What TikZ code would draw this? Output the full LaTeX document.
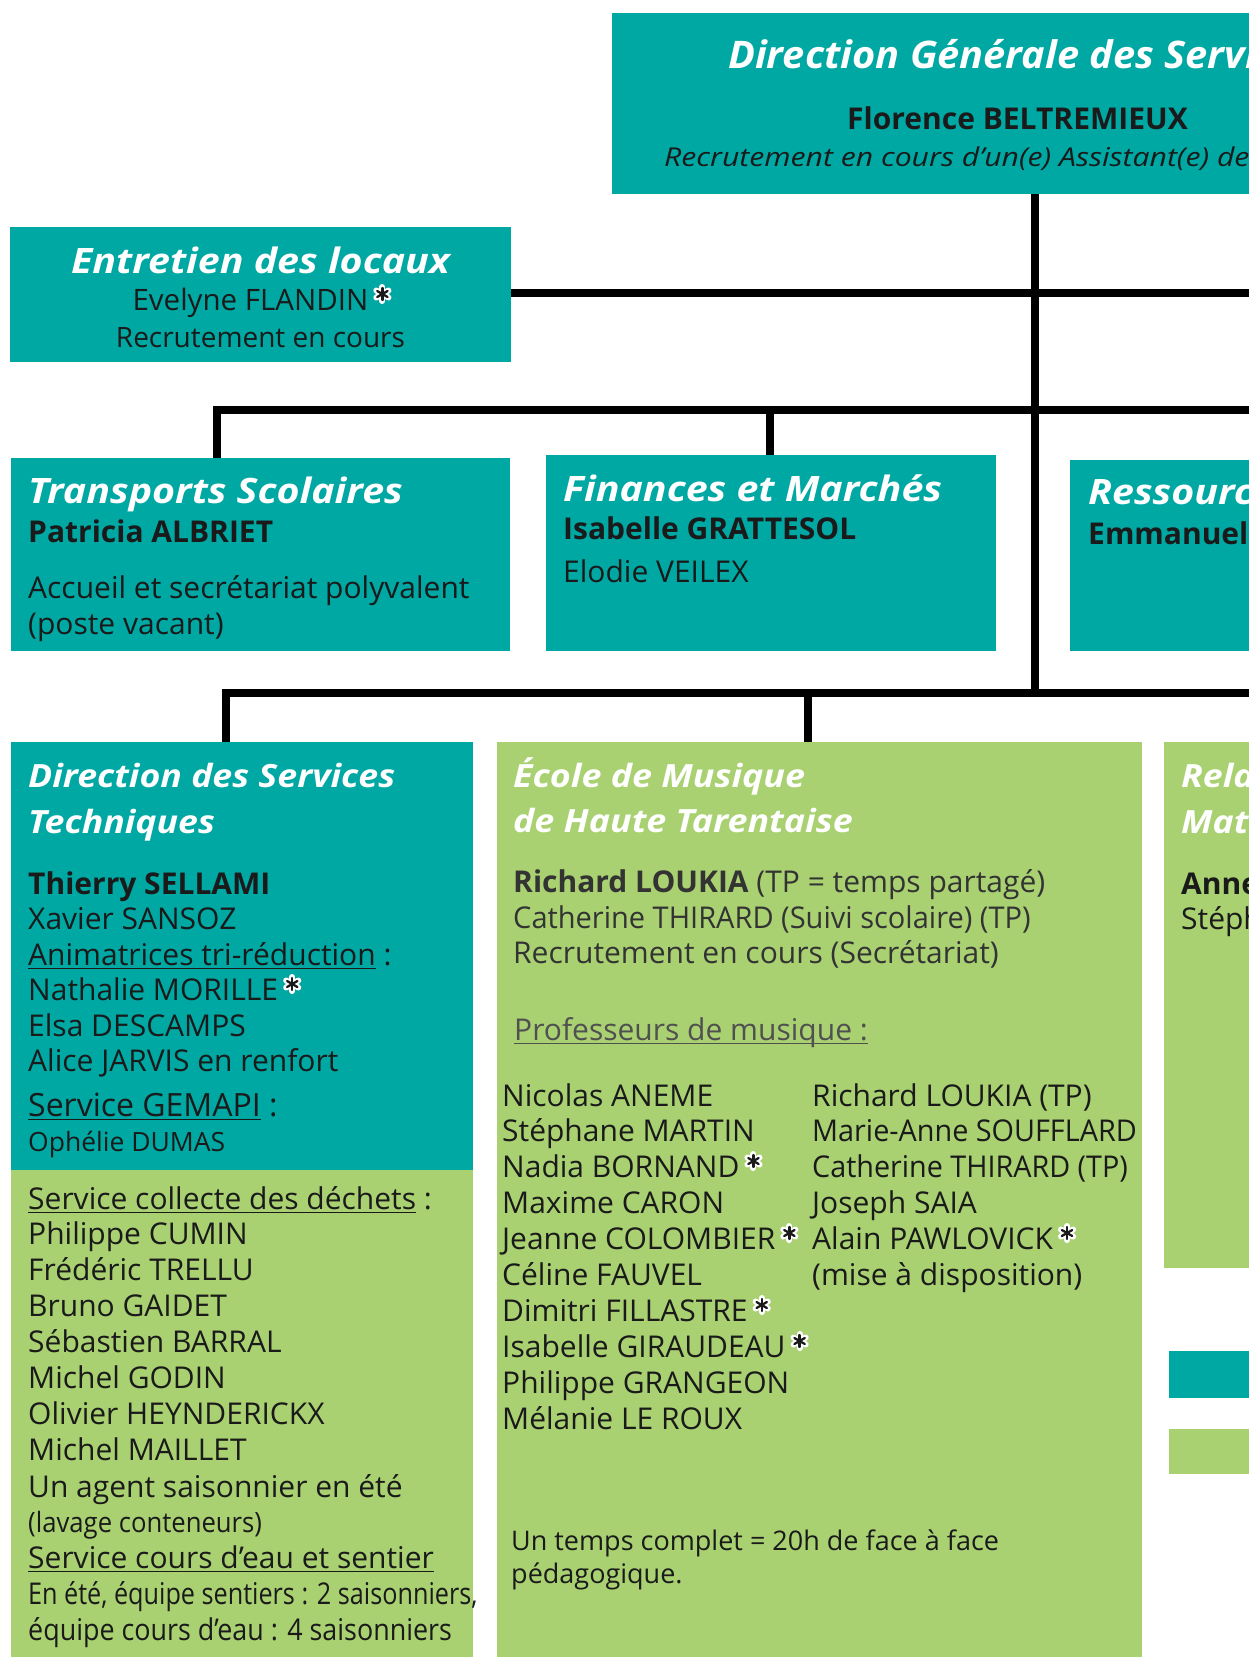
\documentclass[tikz,border=0pt]{standalone}
\usepackage{fontspec}
\setmainfont{Open Sans}
\usepackage{graphicx}
\definecolor{teal1}{HTML}{00A8A4}
\definecolor{green1}{HTML}{A9D172}
\definecolor{ink}{HTML}{1A1A1A}
\definecolor{ink2}{HTML}{333333}
\definecolor{ink3}{HTML}{505050}
\newcommand\fs[1]{\fontsize{#1}{#1}\selectfont}
\newcommand\sx[2]{\scalebox{#1}[1]{#2}}
\newlength\ulw
\newcommand\uln[1]{\settowidth{\ulw}{#1}\rlap{\rule[-4pt]{\ulw}{1.5pt}}#1}
\newcommand\stm{\hspace{5pt}\tikz[x=1pt,y=1pt,baseline=-16pt]{%
  \foreach \a in {90,30,150}{\draw[line width=6pt,line cap=round,white] (\a:7pt) -- (\a+180:7pt);}%
  \foreach \a in {90,30,150}{\draw[line width=2.3pt,line cap=round,ink] (\a:6pt) -- (\a+180:6pt);}}}
\tikzset{
  box/.style={anchor=north west, inner sep=0pt, outer sep=0pt, draw=none},
  tealbox/.style={box, fill=teal1},
  greenbox/.style={box, fill=green1},
  ttl/.style={anchor=base west, inner sep=0pt, text=white, font=\fs{32}\bfseries\itshape},
  ttlA/.style={ttl, font=\fs{35}\bfseries\itshape},
  txt/.style={anchor=base west, inner sep=0pt, text=ink, font=\fs{30}},
  bld/.style={txt, font=\fs{30}\bfseries},
  link/.style={line width=7.5pt, black, line join=miter},
}
\begin{document}
\begin{tikzpicture}[x=1pt,y=-1pt]
\useasboundingbox (0,0) rectangle (1249,1657);
\clip (0,0) rectangle (1249,1657);
% ---------- boxes
\node[tealbox, minimum width=700pt, minimum height=181pt] (dgs) at (612,13) {};
\node[tealbox, minimum width=501pt, minimum height=135pt] (ent) at (10,227) {};
\node[tealbox, minimum width=499pt, minimum height=193pt] (tra) at (11,458) {};
\node[tealbox, minimum width=450pt, minimum height=196pt] (fin) at (546,455) {};
\node[tealbox, minimum width=250pt, minimum height=191pt] (res) at (1070,460) {};
\node[tealbox, minimum width=462pt, minimum height=428pt] (dst) at (11,742) {};
\node[greenbox, minimum width=462pt, minimum height=500pt] (dstg) at (11,1170) {};
\node[greenbox, minimum width=645pt, minimum height=930pt] (eco) at (497,742) {};
\node[greenbox, minimum width=150pt, minimum height=526pt] (rel) at (1164,742) {};
\node[tealbox, minimum width=150pt, minimum height=47pt] (legT) at (1169,1351) {};
\node[greenbox, minimum width=150pt, minimum height=45pt] (legG) at (1169,1429) {};
% ---------- connectors
\coordinate (t0) at (1035,194);
\coordinate (t1) at (1035,693);
\coordinate (h1e) at (1260,293);
\coordinate (h1w) at (511,293);
\coordinate (h2w) at (217,410);
\coordinate (h2f) at (770,410);
\coordinate (h2e) at (1260,410);
\coordinate (h3w) at (226,693);
\coordinate (h3m) at (808,693);
\coordinate (h3e) at (1260,693);
\draw[link] (t0) -- (t1);
\draw[link] (h1w) -- (h1e);
\draw[link] (tra.north -| h2w) -- (h2w) -- (h2e);
\draw[link] (h2f) -- (fin.north -| h2f);
\draw[link] (dst.north -| h3w) -- (h3w) -- (h3e);
\draw[link] (h3m) -- (eco.north -| h3m);
% ---------- DGS
\node[ttl, font=\fs{38}\bfseries\itshape] (dgsT) at (728,68) {\sx{1.047}{Direction Générale des Services}};
\node[bld] (dgsN) at (847,129) {Florence BELTREMIEUX};
\node[txt, font=\fs{26}\itshape] (dgsR) at (664,166) {\sx{1.16}{Recrutement en cours d’un(e) Assistant(e) de}};
% ---------- Entretien
\node[ttlA, anchor=base] (entT) at (260.5,273) {\sx{1.125}{Entretien des locaux}};
\node[txt, anchor=base, font=\fs{29.5}] (entN) at (262,310) {Evelyne FLANDIN\stm};
\node[txt, anchor=base, font=\fs{28}] (entR) at (260.5,347) {Recrutement en cours};
% ---------- Transports
\node[ttlA] (traT) at (28,503) {\sx{1.125}{Transports Scolaires}};
\node[bld] (traN) at (28,542) {Patricia ALBRIET};
\node[txt] (traA) at (28,598) {Accueil et secrétariat polyvalent};
\node[txt] (traB) at (28,634) {(poste vacant)};
% ---------- Finances
\node[ttlA] (finT) at (563,501) {\sx{1.125}{Finances et Marchés}};
\node[bld] (finN) at (563,539) {Isabelle GRATTESOL};
\node[txt] (finA) at (563,582) {Elodie VEILEX};
% ---------- Ressources
\node[ttlA] (resT) at (1088,504) {\sx{1.125}{Ressources}};
\node[bld] (resN) at (1088,544) {Emmanuel};
% ---------- DST
\node[ttl] (dstT1) at (28,787) {\sx{1.115}{Direction des Services}};
\node[ttl] (dstT2) at (28,833) {\sx{1.115}{Techniques}};
\node[bld] (dst1) at (28,894) {Thierry SELLAMI};
\node[txt] (dst2) at (28,929) {Xavier SANSOZ};
\node[txt] (dst3) at (28,965) {\uln{Animatrices tri-réduction} :};
\node[txt] (dst4) at (28,1000) {Nathalie MORILLE\stm};
\node[txt] (dst5) at (28,1036) {Elsa DESCAMPS};
\node[txt] (dst6) at (28,1071) {Alice JARVIS en renfort};
\node[txt, font=\fs{32}] (dst7) at (28,1116) {\uln{Service GEMAPI} :};
\node[txt, font=\fs{26.5}] (dst8) at (28,1151) {Ophélie DUMAS};
\node[txt] (dsg1) at (28,1209) {\uln{Service collecte des déchets} :};
\node[txt] (dsg2) at (28,1244) {Philippe CUMIN};
\node[txt] (dsg3) at (28,1280) {Frédéric TRELLU};
\node[txt] (dsg4) at (28,1316) {Bruno GAIDET};
\node[txt] (dsg5) at (28,1352) {Sébastien BARRAL};
\node[txt] (dsg6) at (28,1388) {Michel GODIN};
\node[txt] (dsg7) at (28,1424) {Olivier HEYNDERICKX};
\node[txt] (dsg8) at (28,1460) {Michel MAILLET};
\node[txt] (dsg9) at (28,1497) {Un agent saisonnier en été};
\node[txt, font=\fs{28}] (dsg10) at (28,1532) {\sx{0.917}{(lavage conteneurs)}};
\node[txt] (dsg11) at (28,1568) {\uln{Service cours d’eau et sentier}};
\node[txt] (dsg12) at (28,1604) {\sx{0.84}{En été, équipe sentiers : 2 saisonniers,}};
\node[txt] (dsg13) at (28,1640) {\sx{0.896}{équipe cours d’eau : 4 saisonniers}};
% ---------- Ecole
\node[ttl] (ecoT1) at (513,787) {\sx{1.12}{École de Musique}};
\node[ttl] (ecoT2) at (513,832) {\sx{1.12}{de Haute Tarentaise}};
\node[txt, text=ink2] (eco1) at (513,892) {\textbf{Richard LOUKIA} (TP = temps partagé)};
\node[txt, text=ink2] (eco2) at (513,928) {\sx{0.967}{Catherine THIRARD (Suivi scolaire) (TP)}};
\node[txt, text=ink2] (eco3) at (513,963) {Recrutement en cours (Secrétariat)};
\node[txt, text=ink3] (eco4) at (514,1040) {\uln{Professeurs de musique :}};
\node[txt] (pa1) at (502,1106) {Nicolas ANEME};
\node[txt] (pa2) at (502,1141) {Stéphane MARTIN};
\node[txt] (pa3) at (502,1177) {Nadia BORNAND\stm};
\node[txt] (pa4) at (502,1213) {Maxime CARON};
\node[txt] (pa5) at (502,1249) {Jeanne COLOMBIER\stm};
\node[txt] (pa6) at (502,1285) {Céline FAUVEL};
\node[txt] (pa7) at (502,1321) {Dimitri FILLASTRE\stm};
\node[txt] (pa8) at (502,1357) {Isabelle GIRAUDEAU\stm};
\node[txt] (pa9) at (502,1393) {Philippe GRANGEON};
\node[txt] (pa10) at (502,1429) {Mélanie LE ROUX};
\node[txt] (pb1) at (812,1106) {Richard LOUKIA (TP)};
\node[txt] (pb2) at (812,1141) {\sx{0.96}{Marie-Anne SOUFFLARD}};
\node[txt] (pb3) at (812,1177) {\sx{0.958}{Catherine THIRARD (TP)}};
\node[txt] (pb4) at (812,1213) {Joseph SAIA};
\node[txt] (pb5) at (812,1249) {Alain PAWLOVICK\stm};
\node[txt] (pb6) at (812,1285) {(mise à disposition)};
\node[txt, font=\fs{27}] (ecoF1) at (511,1550) {Un temps complet = 20h de face à face};
\node[txt, font=\fs{27}] (ecoF2) at (511,1583) {pédagogique.};
% ---------- Relais
\node[ttl] (relT1) at (1181,787) {\sx{1.115}{Relais Assistantes}};
\node[ttl] (relT2) at (1181,833) {\sx{1.115}{Maternelles}};
\node[bld] (rel1) at (1181,894) {Anne};
\node[txt] (rel2) at (1181,929) {Stéphanie};
\end{tikzpicture}
\end{document}
